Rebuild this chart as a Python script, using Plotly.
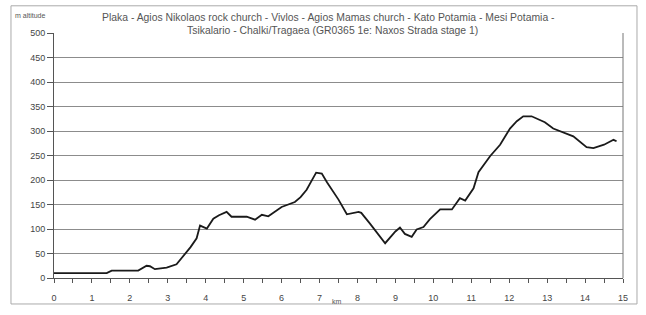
import plotly.graph_objects as go

km = [0, 1.39, 1.52, 2.22, 2.44, 2.53, 2.66, 2.97, 3.23, 3.41, 3.6, 3.76, 3.85, 4.03, 4.20, 4.35,
      4.55, 4.68, 5.08, 5.30, 5.48, 5.65, 6.0, 6.35, 6.5, 6.66, 6.8, 6.91, 7.06, 7.2, 7.5, 7.72,
      8.03, 8.1, 8.33, 8.5, 8.73, 9.0, 9.12, 9.25, 9.43, 9.56, 9.74, 9.91, 10.18, 10.49, 10.70,
      10.84, 11.06, 11.19, 11.50, 11.76, 12.02, 12.2, 12.37, 12.59, 12.94, 13.16, 13.4, 13.69,
      14.04, 14.22, 14.5, 14.75, 14.83]
altitude = [10, 10, 15, 15, 25, 24, 18, 21, 28, 45, 63, 81, 107, 101, 121, 128,
            135, 125, 125, 119, 129, 126, 145, 155, 165, 180, 198, 215, 213, 195, 160, 130,
            135, 133, 111, 95, 71, 95, 103, 90, 84, 99, 104, 120, 140, 140, 163,
            158, 183, 216, 249, 272, 305, 320, 330, 330, 318, 305, 298, 289,
            267, 265, 272, 282, 279]

x_ticks = list(range(0, 16))
y_ticks = list(range(0, 501, 50))
title_line1 = "Plaka - Agios Nikolaos rock church - Vivlos - Agios Mamas church - Kato Potamia - Mesi Potamia -"
title_line2 = "Tsikalario - Chalki/Tragaea (GR0365 1e: Naxos Strada stage 1)"

FONT = "Liberation Sans, Arial, sans-serif"

fig = go.Figure()
fig.add_trace(go.Scatter(x=km, y=altitude, mode="lines",
                         line=dict(color="#1a1a1a", width=1.8), showlegend=False, hoverinfo="skip"))

fig.update_layout(
    width=646, height=315,
    margin=dict(l=54, r=23, t=33, b=29),
    paper_bgcolor="white", plot_bgcolor="white",
    font=dict(family=FONT, size=9, color="#444"),
    xaxis=dict(range=[0, 15], tickvals=x_ticks, ticktext=[str(v) for v in x_ticks],
               showgrid=False, zeroline=False, showline=True, linecolor="#555", linewidth=1,
               ticks="outside", ticklen=4, tickcolor="#555", ticklabelstandoff=7,
               minor=dict(dtick=0.5, ticks="outside", ticklen=4, tickcolor="#555"),
               mirror=False),
    yaxis=dict(range=[0, 500], tickvals=y_ticks, showgrid=True, gridcolor="#8c8c8c", gridwidth=1,
               zeroline=False, showline=True, linecolor="#555", linewidth=1,
               ticks="outside", ticklen=6, tickcolor="#555"),
)

# right plot border
fig.add_shape(type="line", xref="paper", yref="paper", x0=1, x1=1, y0=0, y1=1,
              line=dict(color="#777", width=1))
# outer chart border
fig.add_shape(type="rect", xref="paper", yref="paper", x0=-0.0756, x1=1.0246, y0=-0.106, y1=1.111,
              line=dict(color="#aaa", width=1), layer="below")

fig.add_annotation(text=title_line1, xref="paper", yref="paper", x=0.482, y=(286 - 16.5) / 253,
                   xanchor="center", yanchor="middle", showarrow=False,
                   font=dict(family=FONT, size=10.4, color="#555"))
fig.add_annotation(text=title_line2, xref="paper", yref="paper", x=0.489, y=(286 - 30) / 253,
                   xanchor="center", yanchor="middle", showarrow=False,
                   font=dict(family=FONT, size=10.4, color="#555"))
fig.add_annotation(text="m altitude", xref="paper", yref="paper", x=-0.072, y=(286 - 15) / 253,
                   xanchor="left", yanchor="middle", showarrow=False,
                   font=dict(family=FONT, size=7, color="#555"))
fig.add_annotation(text="km", xref="paper", yref="paper", x=0.497, y=(286 - 310.5) / 253,
                   xanchor="center", yanchor="middle", showarrow=False,
                   font=dict(family=FONT, size=7, color="#555"))

fig.write_html("out.html", post_script="document.body.style.margin='0';",
               config={"displayModeBar": False})
